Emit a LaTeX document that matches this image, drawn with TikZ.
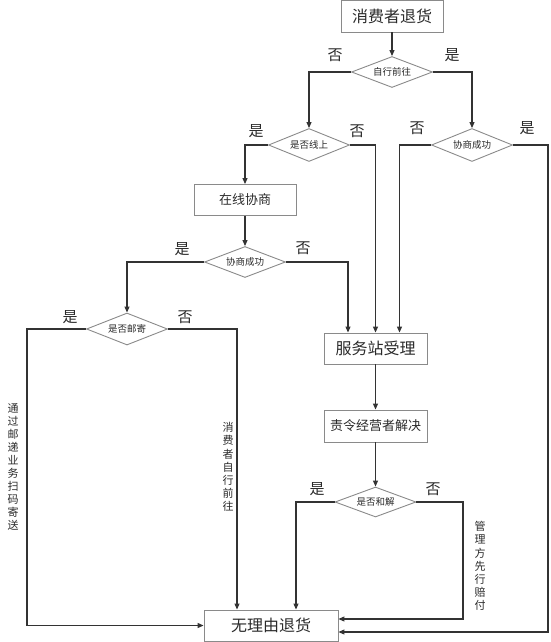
\documentclass[tikz,border=0pt]{standalone}
\usepackage{fontspec}
\setmainfont{Noto Sans CJK SC}
\usetikzlibrary{shapes.geometric,arrows.meta}
\definecolor{lineC}{HTML}{333333}
\definecolor{boxC}{HTML}{8A8A8A}
\definecolor{txtC}{HTML}{2A2A2A}
\tikzset{
  procbox/.style={draw=boxC, line width=0.9pt, rectangle, inner sep=0pt, text=txtC, minimum width=102pt, minimum height=31pt},
  decis/.style={draw=boxC, line width=0.9pt, diamond, aspect=2.5, inner sep=0pt, text=txtC, minimum width=81pt, minimum height=31pt, font=\fontsize{9.5}{10}\selectfont},
  flow/.style={draw=lineC, line width=1.1pt, -{Triangle[length=6pt,width=5pt]}},
  yn/.style={text=txtC, font=\fontsize{15}{15}\selectfont, inner sep=0pt},
  vlab/.style={text=txtC, font=\fontsize{11}{13.1}\selectfont, align=center, inner sep=0pt}
}
\begin{document}
\begin{tikzpicture}[x=1pt,y=-1pt]
\useasboundingbox (0,0) rectangle (550,642);
% nodes
\node[procbox, minimum width=102pt, minimum height=32pt, font=\fontsize{16}{16}\selectfont] (T) at (392,16) {消费者退货};
\node[decis] (d1) at (392,72) {自行前往};
\node[decis, minimum height=33pt] (d2) at (309,145) {是否线上};
\node[decis, minimum height=33pt] (d3) at (472,145) {协商成功};
\node[procbox, font=\fontsize{13}{13}\selectfont] (B2) at (245,200) {在线协商};
\node[decis] (d4) at (245,262) {协商成功};
\node[decis, minimum height=32pt] (d5) at (127,329) {是否邮寄};
\node[procbox, minimum width=103pt, font=\fontsize{16}{16}\selectfont] (B3) at (375.5,348.5) {服务站受理};
\node[procbox, minimum width=103pt, minimum height=32pt, font=\fontsize{13}{13}\selectfont] (B4) at (375.5,426) {责令经营者解决};
\node[decis, minimum height=30pt] (d6) at (375.5,502) {是否和解};
\node[procbox, minimum width=134pt, font=\fontsize{16}{16}\selectfont] (B5) at (271,625.5) {无理由退货};
% helper coordinates
\coordinate (rA) at (548,632);
\coordinate (rB) at (463,619);
\coordinate (lA) at (27,625.5);
% connectors
\draw[flow] (T) -- (d1);
\draw[flow] (d1.west) -| (d2.north);
\draw[flow] (d1.east) -| (d3.north);
\draw[flow] (d2.west) -| (B2.north);
\draw[flow] (d2.east) -| (B3.north);
\draw[flow] (d3.west) -| ([xshift=24pt]B3.north);
\draw[flow] (d3.east) -| (rA) -- (rA -| B5.east);
\draw[flow] (B2) -- (d4);
\draw[flow] (d4.west) -| (d5.north);
\draw[flow] (d4.east) -| ([xshift=-27.5pt]B3.north);
\draw[flow] (d5.west) -| (lA) -- (B5.west);
\draw[flow] (d5.east) -| ([xshift=-34pt]B5.north);
\draw[flow] (B3) -- (B4);
\draw[flow] (B4) -- (d6);
\draw[flow] (d6.west) -| ([xshift=25pt]B5.north);
\draw[flow] (d6.east) -| (rB) -- (rB -| B5.east);
% yes/no labels
\node[yn] (n1) at (335,55) {否};
\node[yn] (y1) at (452,55) {是};
\node[yn] (y2) at (256,131) {是};
\node[yn] (n2) at (357,131) {否};
\node[yn] (n3) at (417,128) {否};
\node[yn] (y3) at (527,128) {是};
\node[yn] (y4) at (182,249) {是};
\node[yn] (n4) at (303,248) {否};
\node[yn] (y5) at (70,317) {是};
\node[yn] (n5) at (185,317) {否};
\node[yn] (y6) at (317,489) {是};
\node[yn] (n6) at (433,489) {否};
% vertical labels
\node[vlab] (v1) at (13,467) {通\\过\\邮\\递\\业\\务\\扫\\码\\寄\\送};
\node[vlab] (v2) at (228,467) {消\\费\\者\\自\\行\\前\\往};
\node[vlab] (v3) at (480,566) {管\\理\\方\\先\\行\\赔\\付};
\end{tikzpicture}
\end{document}
